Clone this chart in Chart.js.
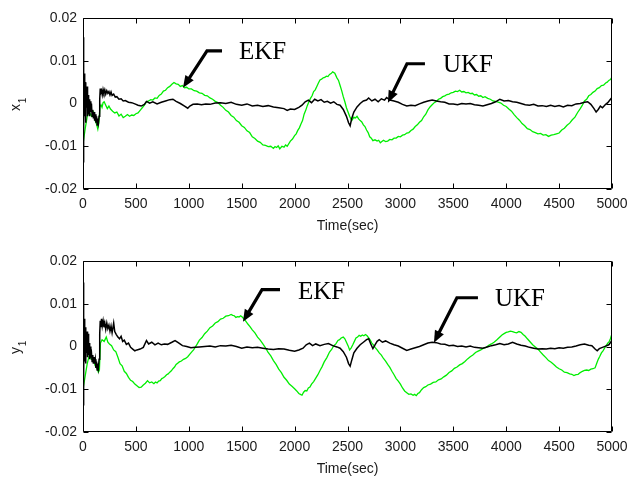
<!DOCTYPE html>
<html><head><meta charset="utf-8">
<script src="https://cdn.jsdelivr.net/npm/chart.js@4"></script>
<style>
html,body{margin:0;padding:0;background:#fff;}
#wrap{position:relative;width:628px;height:479px;background:#fff;}
.box{position:absolute;left:0;width:628px;}
</style></head><body>
<div id="wrap">
<div class="box" style="top:0;height:240px"><canvas id="c1"></canvas></div>
<div class="box" style="top:240px;height:239px"><canvas id="c2"></canvas></div>
</div>
<script>
// ---- axis ticks ----
const xTickValues = [0,500,1000,1500,2000,2500,3000,3500,4000,4500,5000];
const xTickLabels = ['0','500','1000','1500','2000','2500','3000','3500','4000','4500','5000'];
const yTickValues = [-0.02,-0.01,0,0.01,0.02];
const yTickLabels = ['-0.02','-0.01','0','0.01','0.02'];
const xAxisTitle = 'Time(sec)';

// ---- top panel: x1 ----
const tX1Ekf = [0,20,40,60,80,100,115,130,140,150,160,170,180,190,200,215,230,245,260,280,300,320,340,360,380,400,420,440,460,480,500,520,540,560,580,600,620,640,660,680,700,720,740,760,780,800,820,840,860,880,900,920,940,960,980,1000,1025,1050,1075,1100,1125,1150,1175,1200,1225,1250,1275,1300,1325,1350,1375,1400,1425,1450,1475,1500,1525,1550,1575,1600,1625,1650,1675,1700,1725,1750,1775,1800,1815,1830,1845,1860,1880,1900,1915,1930,1960,1980,2000,2015,2030,2045,2060,2075,2090,2105,2120,2135,2150,2165,2180,2195,2210,2225,2240,2255,2270,2285,2300,2315,2330,2345,2360,2380,2400,2415,2430,2445,2460,2475,2490,2505,2520,2540,2560,2575,2590,2605,2620,2635,2650,2665,2680,2695,2710,2725,2740,2760,2780,2795,2810,2825,2840,2860,2880,2900,2920,2940,2960,2980,3000,3020,3040,3060,3080,3100,3120,3140,3160,3180,3200,3220,3240,3260,3280,3300,3320,3340,3360,3380,3400,3420,3440,3460,3480,3500,3520,3540,3560,3580,3600,3620,3640,3660,3680,3700,3720,3740,3760,3780,3800,3825,3850,3875,3900,3925,3950,3975,4000,4025,4050,4075,4100,4125,4150,4175,4200,4225,4250,4275,4300,4325,4350,4375,4400,4425,4450,4475,4500,4525,4550,4575,4600,4625,4650,4675,4700,4720,4740,4760,4780,4800,4820,4840,4860,4880,4900,4920,4940,4955,4970,4985,5000];
const x1Ekf = [-0.0095,-0.006,-0.003,-0.002,-0.003,-0.002,-0.004,-0.005,-0.006,-0.0045,-0.0008,-0.0003,-0.0009,0.0002,0.0004,-0.0004,-0.0012,-0.0006,-0.0013,-0.0018,-0.0022,-0.0020,-0.0029,-0.0025,-0.0033,-0.0030,-0.0026,-0.0030,-0.0027,-0.0028,-0.0024,-0.0022,-0.0016,-0.0010,-0.0004,0.0004,0.0006,0.0009,0.0008,0.0013,0.0012,0.0019,0.0022,0.0029,0.0031,0.0037,0.0040,0.0045,0.0049,0.0046,0.0045,0.0040,0.0042,0.0037,0.0038,0.0034,0.0034,0.0030,0.0029,0.0025,0.0024,0.0019,0.0018,0.0013,0.0010,0.0005,0.0002,-0.0004,-0.0009,-0.0016,-0.0020,-0.0028,-0.0032,-0.0040,-0.0044,-0.0052,-0.0056,-0.0064,-0.0068,-0.0078,-0.0082,-0.0088,-0.0091,-0.0097,-0.0098,-0.0101,-0.0100,-0.0105,-0.0101,-0.0103,-0.0099,-0.0106,-0.0100,-0.0102,-0.0097,-0.0100,-0.0088,-0.0083,-0.0075,-0.0071,-0.0063,-0.0057,-0.0048,-0.0040,-0.0025,-0.0016,-0.0005,0.0004,0.0012,0.0018,0.0028,0.0032,0.0040,0.0048,0.0055,0.0057,0.0060,0.0061,0.0064,0.0063,0.0068,0.0070,0.0074,0.0071,0.0060,0.0054,0.0042,0.0030,0.0016,0.0004,-0.0010,-0.0020,-0.0030,-0.0040,-0.0032,-0.0034,-0.0030,-0.0036,-0.0040,-0.0043,-0.0050,-0.0054,-0.0062,-0.0068,-0.0078,-0.0081,-0.0087,-0.0085,-0.0088,-0.0086,-0.0092,-0.0089,-0.0086,-0.0089,-0.0088,-0.0084,-0.0085,-0.0081,-0.0081,-0.0077,-0.0078,-0.0074,-0.0073,-0.0069,-0.0068,-0.0063,-0.0060,-0.0054,-0.0050,-0.0044,-0.0040,-0.0031,-0.0025,-0.0015,-0.0008,-0.0003,0.0002,0.0005,0.0010,0.0012,0.0016,0.0018,0.0021,0.0022,0.0025,0.0026,0.0029,0.0028,0.0031,0.0027,0.0028,0.0025,0.0026,0.0023,0.0024,0.0020,0.0021,0.0017,0.0018,0.0014,0.0016,0.0012,0.0010,0.0006,0.0005,0.0003,0.0001,-0.0004,-0.0007,-0.0013,-0.0018,-0.0026,-0.0033,-0.0039,-0.0047,-0.0052,-0.0059,-0.0061,-0.0066,-0.0068,-0.0071,-0.0070,-0.0074,-0.0073,-0.0077,-0.0074,-0.0073,-0.0071,-0.0069,-0.0062,-0.0058,-0.0051,-0.0046,-0.0038,-0.0032,-0.0021,-0.0012,-0.0004,0.0006,0.0010,0.0018,0.0021,0.0026,0.0029,0.0035,0.0037,0.0042,0.0043,0.0048,0.0050,0.0054,0.0056,0.0062];

const tX1Ukf = [0,3,6,9,12,16,20,24,28,33,38,43,48,53,58,63,68,74,80,86,92,98,104,110,116,122,128,134,140,146,152,158,163,168,175,182,190,198,206,215,225,235,245,255,265,275,290,305,320,340,360,380,400,430,460,490,520,550,580,600,630,660,700,740,780,820,850,880,920,960,990,1010,1040,1080,1120,1160,1200,1250,1300,1350,1400,1450,1500,1550,1600,1650,1700,1750,1800,1850,1900,1930,1960,2000,2040,2070,2100,2130,2160,2190,2220,2250,2280,2310,2340,2370,2400,2430,2460,2490,2510,2525,2540,2560,2590,2620,2650,2680,2700,2730,2760,2790,2820,2850,2870,2900,2940,2980,3020,3060,3100,3140,3180,3220,3260,3300,3340,3380,3420,3460,3500,3540,3580,3620,3660,3700,3740,3780,3820,3860,3900,3940,3980,4020,4060,4100,4140,4180,4220,4260,4300,4340,4380,4420,4460,4500,4540,4580,4620,4660,4700,4740,4770,4800,4830,4850,4870,4890,4910,4940,4960,4980,5000];
const x1Ukf = [0.0155,-0.0138,0.0080,-0.0060,0.0070,-0.0030,0.0050,-0.0045,0.0030,-0.0010,0.0040,-0.0030,0.0020,-0.0025,0.0010,-0.0030,0.0005,-0.0020,0.0000,-0.0030,-0.0015,-0.0035,-0.0020,-0.0040,-0.0025,-0.0045,-0.0030,-0.0050,-0.0035,-0.0045,-0.0030,0.0010,0.0035,0.0025,0.0030,0.0020,0.0033,0.0025,0.0032,0.0022,0.0030,0.0024,0.0028,0.0020,0.0027,0.0019,0.0022,0.0015,0.0016,0.0010,0.0011,0.0006,0.0007,0.0003,0.0002,-0.0001,-0.0004,-0.0006,-0.0002,0.0005,0.0001,0.0004,-0.0001,0.0003,0.0006,0.0009,0.0010,0.0005,0.0000,-0.0006,-0.0011,-0.0006,-0.0002,-0.0001,-0.0003,-0.0001,-0.0002,0.0001,0.0002,0.0000,0.0003,-0.0002,-0.0004,-0.0001,-0.0006,-0.0004,-0.0007,-0.0005,-0.0008,-0.0010,-0.0012,-0.0016,-0.0013,-0.0014,-0.0009,-0.0004,0.0004,0.0008,0.0002,0.0010,0.0006,0.0009,0.0003,0.0005,0.0001,0.0004,-0.0002,-0.0004,-0.0014,-0.0030,-0.0045,-0.0052,-0.0035,-0.0020,-0.0008,0.0000,0.0006,0.0008,0.0013,0.0006,0.0010,0.0004,0.0011,0.0008,0.0014,0.0008,0.0006,0.0003,-0.0002,-0.0006,-0.0004,-0.0005,-0.0001,0.0003,0.0006,0.0008,0.0006,0.0004,0.0003,-0.0001,-0.0001,-0.0003,0.0000,-0.0001,0.0000,-0.0003,-0.0004,-0.0006,-0.0003,0.0000,0.0004,0.0010,0.0006,0.0007,0.0004,0.0003,0.0000,-0.0003,-0.0004,-0.0002,-0.0006,-0.0005,-0.0007,-0.0004,-0.0007,-0.0005,-0.0008,-0.0004,-0.0005,-0.0001,0.0000,0.0003,0.0004,-0.0002,-0.0012,-0.0020,-0.0014,-0.0006,-0.0010,-0.0002,0.0002,0.0008,0.0014];

// ---- bottom panel: y1 ----
const tY1Ekf = [0,20,40,60,80,100,115,130,145,155,165,180,200,220,235,250,270,290,310,330,350,370,390,410,430,450,470,490,510,530,550,570,590,610,630,650,670,685,700,715,730,745,760,775,790,805,820,835,850,865,880,895,910,930,950,970,990,1010,1030,1045,1060,1080,1100,1125,1150,1175,1200,1225,1250,1275,1300,1325,1350,1375,1400,1415,1430,1445,1460,1475,1490,1505,1520,1540,1560,1580,1600,1625,1650,1675,1700,1725,1750,1775,1800,1825,1850,1875,1900,1925,1950,1975,2000,2020,2040,2055,2070,2085,2100,2115,2130,2145,2160,2180,2200,2220,2240,2260,2280,2305,2330,2350,2370,2390,2410,2425,2440,2460,2475,2490,2505,2520,2535,2550,2565,2580,2595,2610,2625,2640,2655,2670,2685,2700,2715,2730,2745,2760,2780,2800,2820,2840,2860,2880,2900,2920,2940,2960,2980,3000,3020,3040,3060,3080,3100,3120,3135,3150,3165,3180,3200,3220,3240,3260,3285,3310,3335,3360,3385,3410,3435,3460,3485,3510,3535,3560,3585,3610,3635,3660,3685,3710,3735,3760,3785,3810,3835,3860,3885,3910,3935,3960,3980,4000,4020,4040,4060,4080,4100,4120,4140,4160,4180,4200,4225,4250,4275,4300,4325,4350,4375,4400,4425,4450,4475,4500,4525,4550,4575,4600,4620,4640,4660,4680,4700,4720,4740,4760,4780,4800,4820,4840,4855,4870,4885,4900,4915,4930,4945,4960,4975,4985,5000];
const y1Ekf = [-0.0100,-0.007,-0.004,-0.002,-0.003,-0.0030,-0.0045,-0.0050,-0.0060,-0.0055,0.0008,0.0016,0.0012,0.0022,0.0010,0.0006,0.0002,-0.0008,-0.0012,-0.0025,-0.0040,-0.0045,-0.0058,-0.0063,-0.0072,-0.0079,-0.0082,-0.0088,-0.0092,-0.0096,-0.0095,-0.0090,-0.0086,-0.0080,-0.0085,-0.0083,-0.0087,-0.0083,-0.0085,-0.0081,-0.0080,-0.0075,-0.0073,-0.0070,-0.0066,-0.0064,-0.0060,-0.0057,-0.0052,-0.0048,-0.0042,-0.0039,-0.0036,-0.0034,-0.0030,-0.0028,-0.0024,-0.0018,-0.0012,-0.0008,-0.0002,0.0006,0.0015,0.0021,0.0030,0.0036,0.0044,0.0048,0.0055,0.0058,0.0064,0.0066,0.0071,0.0072,0.0075,0.0073,0.0072,0.0068,0.0070,0.0069,0.0072,0.0069,0.0065,0.0059,0.0052,0.0046,0.0039,0.0032,0.0022,0.0015,0.0006,-0.0003,-0.0014,-0.0022,-0.0033,-0.0042,-0.0053,-0.0061,-0.0072,-0.0079,-0.0088,-0.0093,-0.0099,-0.0104,-0.0110,-0.0112,-0.0114,-0.0107,-0.0103,-0.0104,-0.0097,-0.0095,-0.0088,-0.0082,-0.0074,-0.0066,-0.0056,-0.0047,-0.0036,-0.0026,-0.0013,-0.0007,0.0002,0.0006,0.0014,0.0016,0.0020,0.0022,0.0018,0.0010,0.0002,-0.0008,-0.0003,0.0004,0.0012,0.0020,0.0022,0.0026,0.0024,0.0027,0.0025,0.0028,0.0025,0.0020,0.0015,0.0008,0.0004,-0.0002,-0.0008,-0.0015,-0.0020,-0.0028,-0.0034,-0.0042,-0.0049,-0.0058,-0.0066,-0.0075,-0.0081,-0.0088,-0.0097,-0.0104,-0.0108,-0.0112,-0.0111,-0.0114,-0.0112,-0.0115,-0.0110,-0.0108,-0.0101,-0.0096,-0.0094,-0.0090,-0.0088,-0.0084,-0.0083,-0.0078,-0.0076,-0.0071,-0.0067,-0.0061,-0.0057,-0.0051,-0.0048,-0.0043,-0.0040,-0.0035,-0.0029,-0.0024,-0.0020,-0.0014,-0.0011,-0.0008,-0.0004,-0.0002,0.0003,0.0006,0.0010,0.0015,0.0021,0.0027,0.0030,0.0033,0.0034,0.0036,0.0035,0.0033,0.0032,0.0035,0.0033,0.0028,0.0024,0.0018,0.0011,0.0004,-0.0001,-0.0006,-0.0013,-0.0020,-0.0026,-0.0033,-0.0037,-0.0042,-0.0048,-0.0052,-0.0055,-0.0060,-0.0061,-0.0064,-0.0065,-0.0068,-0.0066,-0.0065,-0.0061,-0.0058,-0.0056,-0.0055,-0.0056,-0.0053,-0.0052,-0.0050,-0.0040,-0.0030,-0.0023,-0.0015,-0.0010,-0.0004,0.0002,0.0008,0.0012,0.0018,0.0030];

const tY1Ukf = [0,3,6,9,12,16,20,24,28,33,38,43,48,53,58,63,68,74,80,86,92,98,104,110,116,122,128,134,140,146,152,158,163,168,175,182,190,198,206,215,225,235,245,255,265,275,290,300,315,330,345,360,375,390,410,430,450,470,490,510,540,570,600,620,650,680,710,740,770,800,840,870,900,940,980,1020,1060,1100,1150,1200,1250,1300,1350,1400,1450,1500,1550,1600,1650,1700,1750,1800,1850,1900,1950,2000,2040,2080,2110,2140,2170,2200,2240,2280,2320,2360,2400,2430,2460,2490,2510,2525,2540,2560,2590,2620,2650,2680,2700,2720,2740,2760,2780,2800,2830,2860,2900,2940,2980,3020,3060,3100,3140,3180,3220,3260,3300,3340,3380,3420,3460,3500,3540,3580,3620,3660,3700,3740,3780,3820,3860,3900,3940,3980,4020,4060,4100,4140,4180,4220,4260,4300,4340,4380,4420,4460,4500,4540,4580,4620,4660,4700,4740,4780,4810,4840,4860,4880,4910,4940,4970,5000];
const y1Ukf = [0.0150,-0.0138,0.0075,-0.0065,0.0065,-0.0035,0.0045,-0.0040,0.0020,-0.0015,0.0035,-0.0025,0.0030,-0.0020,0.0008,-0.0030,0.0000,-0.0020,-0.0015,-0.0035,-0.0020,-0.0040,-0.0025,-0.0040,-0.0030,-0.0050,-0.0035,-0.0055,-0.0040,-0.0050,-0.0030,0.0030,0.0060,0.0045,0.0065,0.0048,0.0060,0.0045,0.0055,0.0040,0.0055,0.0042,0.0050,0.0036,0.0048,0.0032,0.0055,0.0035,0.0028,0.0022,0.0018,0.0024,0.0012,0.0015,0.0005,0.0008,-0.0002,-0.0006,-0.0010,-0.0008,-0.0006,-0.0002,0.0014,0.0006,0.0010,0.0004,0.0008,0.0004,0.0006,0.0005,0.0010,0.0014,0.0009,0.0002,0.0000,-0.0003,-0.0002,-0.0001,0.0000,0.0001,-0.0001,0.0002,0.0001,0.0003,0.0000,-0.0004,-0.0001,-0.0003,-0.0002,-0.0004,-0.0006,-0.0007,-0.0005,-0.0006,-0.0009,-0.0011,-0.0008,-0.0004,0.0004,0.0008,0.0002,0.0006,0.0002,0.0005,0.0007,0.0002,-0.0001,-0.0004,-0.0012,-0.0025,-0.0040,-0.0046,-0.0032,-0.0015,-0.0004,0.0004,0.0010,0.0016,0.0018,0.0006,-0.0005,0.0004,0.0012,0.0016,0.0010,0.0013,0.0008,0.0004,0.0001,-0.0004,-0.0009,-0.0006,-0.0003,0.0000,0.0004,0.0008,0.0010,0.0009,0.0006,0.0005,0.0002,0.0003,0.0000,0.0001,-0.0001,0.0001,-0.0002,-0.0003,-0.0004,-0.0001,0.0002,0.0004,0.0007,0.0004,0.0006,0.0010,0.0006,0.0003,0.0001,-0.0002,-0.0004,-0.0006,-0.0005,-0.0006,-0.0004,-0.0005,-0.0003,-0.0004,-0.0002,-0.0001,0.0001,0.0004,0.0006,0.0003,0.0002,-0.0006,-0.0010,-0.0005,-0.0002,0.0001,0.0004,0.0014];

// ---- annotation callouts: [tip, elbow, end] in data units, label anchor ----
const topEkfArrow = [[945,0.0037],[1172,0.0123],[1314,0.0123]];
const topEkfLabel = [1474,0.0119];
const topUkfArrow = [[2882,0.0002],[3062,0.0093],[3232,0.0093]];
const topUkfLabel = [3402,0.0088];
const botEkfArrow = [[1512,0.0058],[1692,0.0133],[1862,0.0133]];
const botEkfLabel = [2032,0.0126];
const botUkfArrow = [[3317,0.0009],[3534,0.0114],[3733,0.0114]];
const botUkfLabel = [3893,0.0109];

const GREEN = '#00ee00';
const TICK_FONT = '14px "Liberation Sans", Arial, sans-serif';

function pts(t, v){ return t.map((x,i)=>({x:x, y:v[i]})); }

const framePlugin = {
  id:'frame',
  afterDraw(chart, args, opts){
    const {ctx, chartArea:a, scales:{x, y}} = chart;
    ctx.save();
    ctx.strokeStyle = '#000'; ctx.lineWidth = 1;
    const L = Math.round(a.left)+0.5, R = Math.round(a.right)-0.5, T = Math.round(a.top)+0.5, B = Math.round(a.bottom)-0.5;
    ctx.beginPath();
    ctx.rect(L, T, R-L, B-T);
    x.ticks.forEach(t=>{
      const p = Math.round(x.getPixelForValue(t.value))+0.5;
      ctx.moveTo(p, B); ctx.lineTo(p, B-5);
      ctx.moveTo(p, T); ctx.lineTo(p, T+5);
    });
    y.ticks.forEach(t=>{
      const p = Math.round(y.getPixelForValue(t.value))+0.5;
      ctx.moveTo(L, p); ctx.lineTo(L+5, p);
      ctx.moveTo(R, p); ctx.lineTo(R-5, p);
    });
    ctx.stroke();
    // x title
    ctx.fillStyle = '#1a1a1a';
    ctx.font = TICK_FONT;
    ctx.textAlign = 'center'; ctx.textBaseline = 'middle';
    ctx.fillText(xAxisTitle, (a.left+a.right)/2, a.bottom + 37);
    // y title with subscript
    ctx.save();
    ctx.translate(a.left - 66, y.getPixelForValue(0));
    ctx.rotate(-Math.PI/2);
    ctx.font = '14px "Liberation Sans", Arial, sans-serif';
    ctx.fillText(opts.letter, -4, -1);
    ctx.font = '10px "Liberation Sans", Arial, sans-serif';
    ctx.fillText('1', 3, 6);
    ctx.restore();
    // callouts
    ctx.strokeStyle = '#000'; ctx.fillStyle = '#000';
    opts.notes.forEach(n=>{
      const P = n.arrow.map(q=>[x.getPixelForValue(q[0]), y.getPixelForValue(q[1])]);
      const tip = P[0], elb = P[1], end = P[2];
      const dx = tip[0]-elb[0], dy = tip[1]-elb[1], len = Math.hypot(dx,dy);
      const ux = dx/len, uy = dy/len;
      const hl = 12, hw = 5;
      const bx = tip[0]-ux*hl, by = tip[1]-uy*hl;
      ctx.lineWidth = 3.2; ctx.lineJoin = 'miter';
      ctx.beginPath();
      ctx.moveTo(end[0], end[1]); ctx.lineTo(elb[0], elb[1]); ctx.lineTo(bx+ux*2, by+uy*2);
      ctx.stroke();
      ctx.beginPath();
      ctx.moveTo(tip[0], tip[1]);
      ctx.lineTo(bx - uy*hw, by + ux*hw);
      ctx.lineTo(bx + uy*hw, by - ux*hw);
      ctx.closePath(); ctx.fill();
      ctx.font = '25px "Liberation Serif", "Times New Roman", serif';
      ctx.textAlign = 'left'; ctx.textBaseline = 'middle';
      ctx.fillText(n.label, x.getPixelForValue(n.pos[0]), y.getPixelForValue(n.pos[1]));
    });
    ctx.restore();
  }
};

function makeChart(id, ukf, ekf, letter, notes, padTop, xAxisH){
  return new Chart(document.getElementById(id), {
    type:'line',
    data:{ datasets:[
      {label:'UKF', data:ukf, borderColor:'#000', borderWidth:1.5, pointRadius:0, tension:0, fill:false},
      {label:'EKF', data:ekf, borderColor:GREEN, borderWidth:1.3, pointRadius:0, tension:0, fill:false}
    ]},
    options:{
      responsive:true, maintainAspectRatio:false, animation:false,
      layout:{padding:{top:padTop, right:16, left:0, bottom:0}},
      plugins:{legend:{display:false}, tooltip:{enabled:false}, frame:{letter:letter, notes:notes}},
      scales:{
        x:{type:'linear', min:0, max:5000,
          afterBuildTicks:s=>{ s.ticks = xTickValues.map(v=>({value:v})); },
          afterFit:s=>{ s.height = xAxisH; s.paddingLeft = 0; s.paddingRight = 0; },
          grid:{display:false, drawTicks:false}, border:{display:false},
          ticks:{font:{family:'"Liberation Sans", Arial, sans-serif', size:14}, color:'#1a1a1a', padding:7, maxRotation:0, autoSkip:false,
            callback:(v,i)=>xTickLabels[i]}
        },
        y:{type:'linear', min:-0.02, max:0.02,
          afterBuildTicks:s=>{ s.ticks = yTickValues.map(v=>({value:v})); },
          afterFit:s=>{ s.width = 83; s.paddingTop = 0; s.paddingBottom = 0; },
          grid:{display:false, drawTicks:false}, border:{display:false},
          ticks:{font:{family:'"Liberation Sans", Arial, sans-serif', size:14}, color:'#1a1a1a', padding:6,
            callback:(v,i)=>yTickLabels[i]}
        }
      }
    },
    plugins:[framePlugin]
  });
}

makeChart('c1', pts(tX1Ukf, x1Ukf), pts(tX1Ekf, x1Ekf), 'x',
  [{arrow:topEkfArrow, pos:topEkfLabel, label:'EKF'}, {arrow:topUkfArrow, pos:topUkfLabel, label:'UKF'}], 18, 51);
makeChart('c2', pts(tY1Ukf, y1Ukf), pts(tY1Ekf, y1Ekf), 'y',
  [{arrow:botEkfArrow, pos:botEkfLabel, label:'EKF'}, {arrow:botUkfArrow, pos:botUkfLabel, label:'UKF'}], 21, 47);
</script>
</body></html>
